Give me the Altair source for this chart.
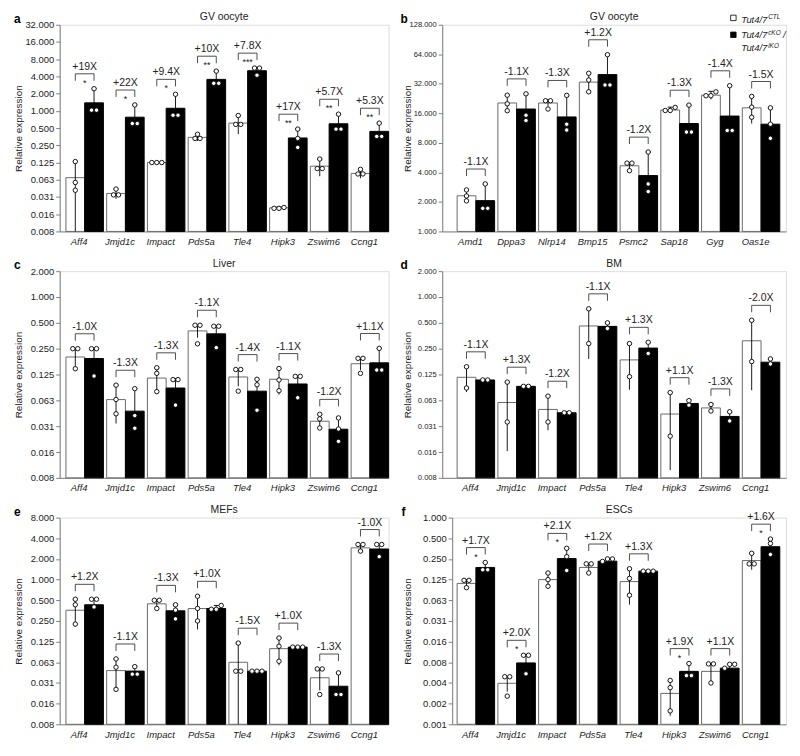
import json
import altair as alt
import numpy as np
import pandas as pd

FONT = "Liberation Sans"
TXT = "#222222"
AXC = "#808080"
PITCH = 41.0   # px per gene group
BW = 0.46      # bar width in group units
H = 208

GENES1 = ["Aff4", "Jmjd1c", "Impact", "Pds5a", "Tle4", "Hipk3", "Zswim6", "Ccng1"]
GENES_B = ["Amd1", "Dppa3", "Nlrp14", "Bmp15", "Psmc2", "Sap18", "Gyg", "Oas1e"]

# ---------------- panel a : GV oocyte ----------------
ctl_mean_a = [0.068, 0.036, 0.125, 0.344, 0.611, 0.0202, 0.108, 0.0807]
ctl_hi_a = [0.13, 0.043, 0.127, 0.39, 0.83, 0.021, 0.144, 0.095]
ctl_pts_a = [[0.13, 0.056, 0.041], [0.043, 0.034, 0.034], [0.125, 0.125, 0.125], [0.39, 0.33, 0.33],
             [0.83, 0.58, 0.58], [0.0198, 0.0198, 0.0205], [0.144, 0.098, 0.098], [0.095, 0.079, 0.079]]
ko_mean_a = [1.38, 0.775, 1.11, 3.55, 5.03, 0.336, 0.595, 0.438]
ko_hi_a = [2.44, 1.27, 1.95, 4.95, 5.6, 0.48, 0.875, 0.61]
ko_pts_a = [[2.44, 1.03, 1.03], [1.27, 0.6, 0.6], [1.95, 0.84, 0.84], [4.95, 3.03, 3.03],
            [5.6, 5.6, 4.2], [0.48, 0.33, 0.23], [0.875, 0.48, 0.48], [0.61, 0.358, 0.358]]
fold_a = ["+19X", "+22X", "+9.4X", "+10X", "+7.8X", "+17X", "+5.7X", "+5.3X"]
sig_a = ["*", "*", "*", "**", "***", "**", "**", "**"]

# ---------------- panel b : GV oocyte ----------------
ctl_mean_b = [2.31, 20.4, 20.4, 33.3, 4.67, 17.3, 24.5, 18.2]
ctl_hi_b = [2.65, 24.5, 22.0, 41.0, 5.0, 18.5, 26.8, 23.8]
ctl_pts_b = [[2.65, 2.3, 2.05], [24.5, 20.0, 17.0], [21.5, 21.5, 17.7], [41.0, 35.0, 26.5],
             [4.97, 4.97, 4.16], [18.4, 17.1, 17.1], [26.5, 24.2, 24.2], [23.8, 18.5, 14.6]]
ko_mean_b = [2.06, 17.7, 14.7, 39.7, 3.71, 12.6, 15.0, 12.4]
ko_hi_b = [3.05, 25.3, 24.4, 63.4, 6.45, 19.4, 30.6, 18.2]
ko_pts_b = [[3.05, 1.72, 1.72], [25.3, 15.3, 13.5], [24.4, 12.4, 10.8], [63.4, 31.1, 31.1],
            [6.45, 3.05, 2.55], [19.4, 10.3, 10.3], [30.6, 10.7, 10.7], [18.2, 12.4, 8.9]]
fold_b = ["-1.1X", "-1.1X", "-1.3X", "+1.2X", "-1.2X", "-1.3X", "-1.4X", "-1.5X"]
sig_b = ["", "", "", "", "", "", "", ""]

# ---------------- panel c : Liver ----------------
ctl_mean_c = [0.2, 0.0638, 0.1136, 0.403, 0.117, 0.11, 0.0357, 0.167]
ctl_hi_c = [0.25, 0.094, 0.15, 0.47, 0.143, 0.147, 0.043, 0.193]
ctl_pts_c = [[0.25, 0.25, 0.146], [0.094, 0.064, 0.0436], [0.15, 0.129, 0.079], [0.469, 0.469, 0.285],
             [0.143, 0.143, 0.08], [0.147, 0.108, 0.081], [0.043, 0.038, 0.0298], [0.193, 0.193, 0.129]]
ko_mean_c = [0.192, 0.0468, 0.087, 0.372, 0.08, 0.097, 0.0288, 0.171]
ko_hi_c = [0.25, 0.0855, 0.112, 0.46, 0.11, 0.119, 0.039, 0.252]
ko_pts_c = [[0.25, 0.25, 0.12], [0.0855, 0.0415, 0.0296], [0.109, 0.109, 0.055], [0.457, 0.457, 0.257],
            [0.11, 0.095, 0.048], [0.119, 0.119, 0.067], [0.039, 0.029, 0.0208], [0.252, 0.141, 0.141]]
fold_c = ["-1.0X", "-1.3X", "-1.3X", "-1.1X", "-1.4X", "-1.1X", "-1.2X", "+1.1X"]
sig_c = ["", "", "", "", "", "", "", ""]

# ---------------- panel d : BM ----------------
ctl_mean_d = [0.116, 0.059, 0.049, 0.46, 0.185, 0.0433, 0.051, 0.309]
ctl_hi_d = [0.154, 0.102, 0.07, 0.73, 0.287, 0.077, 0.057, 0.536]
ctl_pts_d = [[0.154, 0.087], [0.102, 0.035], [0.07, 0.035], [0.729, 0.287],
             [0.287, 0.118], [0.077, 0.0239], [0.056, 0.047], [0.536, 0.177]]
ko_mean_d = [0.108, 0.091, 0.0448, 0.455, 0.254, 0.0575, 0.0406, 0.174]
ko_hi_d = [0.11, 0.093, 0.046, 0.5, 0.297, 0.063, 0.046, 0.19]
ko_pts_d = [[0.108, 0.108], [0.091, 0.091], [0.0448, 0.0448], [0.5, 0.43],
            [0.297, 0.22], [0.062, 0.055], [0.046, 0.036], [0.19, 0.166]]
fold_d = ["-1.1X", "+1.3X", "-1.2X", "-1.1X", "+1.3X", "+1.1X", "-1.3X", "-2.0X"]
sig_d = ["", "", "", "", "", "", "", ""]

# ---------------- panel e : MEFs ----------------
ctl_mean_e = [0.358, 0.0473, 0.444, 0.379, 0.0625, 0.0987, 0.0372, 2.9]
ctl_hi_e = [0.51, 0.07, 0.5, 0.57, 0.119, 0.141, 0.05, 3.25]
ctl_pts_e = [[0.518, 0.43, 0.225], [0.07, 0.053, 0.0252], [0.5, 0.5, 0.38], [0.573, 0.38, 0.25],
             [0.119, 0.0464, 0.0464], [0.141, 0.107, 0.0647], [0.05, 0.05, 0.0212], [3.25, 3.25, 2.6]]
ko_mean_e = [0.43, 0.0465, 0.351, 0.38, 0.0464, 0.104, 0.028, 2.79]
ko_hi_e = [0.518, 0.055, 0.43, 0.42, 0.047, 0.106, 0.0438, 3.25]
ko_pts_e = [[0.518, 0.518, 0.4], [0.054, 0.042, 0.042], [0.43, 0.36, 0.268], [0.42, 0.37, 0.37],
            [0.0464, 0.0464, 0.0464], [0.104, 0.104, 0.104], [0.0438, 0.0212, 0.0212], [3.25, 3.25, 2.16]]
fold_e = ["+1.2X", "-1.1X", "-1.3X", "+1.0X", "-1.5X", "+1.0X", "-1.3X", "-1.0X"]
sig_e = ["", "", "", "", "", "", "", ""]

# ---------------- panel f : ESCs ----------------
ctl_mean_f = [0.110, 0.00386, 0.125, 0.188, 0.117, 0.00275, 0.00576, 0.237]
ctl_hi_f = [0.125, 0.0048, 0.155, 0.212, 0.18, 0.0042, 0.0075, 0.30]
ctl_pts_f = [[0.122, 0.122, 0.0955], [0.00481, 0.00481, 0.00251], [0.156, 0.125, 0.1], [0.212, 0.212, 0.156],
             [0.18, 0.13, 0.074], [0.00425, 0.00334, 0.00153], [0.0074, 0.0074, 0.0039], [0.302, 0.212, 0.212]]
ko_mean_f = [0.188, 0.00765, 0.253, 0.232, 0.166, 0.00576, 0.00642, 0.377]
ko_hi_f = [0.222, 0.0099, 0.357, 0.25, 0.168, 0.0075, 0.0073, 0.487]
ko_pts_f = [[0.222, 0.174, 0.174], [0.00989, 0.00989, 0.00531], [0.357, 0.27, 0.17], [0.25, 0.25, 0.23],
            [0.166, 0.166, 0.166], [0.0075, 0.005, 0.005], [0.0073, 0.0073, 0.0064], [0.487, 0.42, 0.29]]
fold_f = ["+1.7X", "+2.0X", "+2.1X", "+1.2X", "+1.3X", "+1.9X", "+1.1X", "+1.6X"]
sig_f = ["*", "*", "*", "", "", "*", "", "*"]


def one(**kw):
    return pd.DataFrame([kw])


def panel(letter, title, genes, cm, ch, cp, km, kh, kp, fold, sig, e0, e1,
          W, off, title_x, letter_x, tick_fs=9.5, legend=False):
    dmin, dmax = 2.0 ** e0, 2.0 ** e1
    L = e1 - e0

    def ypx(v):
        return H * (np.log2(v) - e0) / L

    bars, pts, brk = [], [], []
    for i, g in enumerate(genes):
        for grp, mean, hi, p, k in (("CTL", cm[i], ch[i], cp[i], 0), ("KO", km[i], kh[i], kp[i], 1)):
            left = i + k * BW
            c = left + BW / 2
            lo = max(2 * mean - hi, dmin)
            bars.append(dict(gene=g, grp=grp, x=left, x2=left + BW, xc=c,
                             capl=c - 2.5 / PITCH, capr=c + 2.5 / PITCH,
                             mean=mean, hi=hi, lo=lo))
            ys = sorted(p, key=ypx)
            clusters = []
            for v in ys:
                if clusters and ypx(v) - ypx(clusters[-1][-1]) < 4.0:
                    clusters[-1].append(v)
                else:
                    clusters.append([v])
            for cl in clusters:
                n = len(cl)
                for j, v in enumerate(cl):
                    pts.append(dict(gene=g, grp=grp, px=c + (j - (n - 1) / 2) * 5.0 / PITCH, val=v))
        top = max(ch[i], kh[i], max(cp[i]), max(kp[i]))
        brk.append(dict(gene=g, xa=i + BW / 2, xb=i + 1.5 * BW, xm=i + BW, top=top,
                        fold=fold[i], sig=sig[i]))
    bdf, pdf, kdf = pd.DataFrame(bars), pd.DataFrame(pts), pd.DataFrame(brk)

    xscale = alt.Scale(domain=[-off / PITCH, (W - off) / PITCH], nice=False, zero=False)
    yscale = alt.Scale(type="log", base=2, domain=[dmin, dmax], nice=False)
    label_expr = json.dumps(genes) + "[round(datum.value - %s)]" % BW
    xaxis = alt.Axis(values=[i + BW for i in range(len(genes))], labelExpr=label_expr, title=None,
                     ticks=False, tickSize=0, domainColor=AXC, domainWidth=1, grid=False,
                     labelFont=FONT, labelFontStyle="italic", labelFontSize=9.5, labelColor=TXT,
                     labelPadding=5, labelOffset=-6, labelFlush=False, labelOverlap=False)
    yaxis = alt.Axis(values=[2.0 ** e for e in range(e0, e1 + 1)], format=".3f",
                     title="Relative expression", titleX=title_x, titleY=H / 2, titleAngle=-90,
                     titleAlign="center", titleBaseline="middle", titleFont=FONT, titleFontSize=10,
                     titleFontWeight="normal", titleColor=TXT, grid=False,
                     labelFont=FONT, labelFontSize=tick_fs, labelColor=TXT, labelPadding=2,
                     tickSize=4, tickColor=AXC, domainColor=AXC, domainWidth=1,
                     labelFlush=False, labelOverlap=False)

    def X(f):
        return alt.X(f, type="quantitative", scale=xscale, axis=xaxis)

    def Y(f):
        return alt.Y(f, type="quantitative", scale=yscale, axis=yaxis)

    gscale_fill = alt.Scale(domain=["CTL", "KO"], range=["white", "black"])
    gscale_stroke = alt.Scale(domain=["CTL", "KO"], range=["#6a6a6a", "black"])

    layers = []
    layers.append(alt.Chart(bdf).mark_bar(strokeWidth=1).encode(
        x=X("x"), x2="x2", y=Y("mean"), y2=alt.datum(dmin),
        fill=alt.Fill("grp:N", scale=gscale_fill, legend=None),
        stroke=alt.Stroke("grp:N", scale=gscale_stroke, legend=None)))
    layers.append(alt.Chart(bdf).mark_rule(color="black", strokeWidth=0.9).encode(
        x=X("xc"), y=Y("lo"), y2="hi"))
    layers.append(alt.Chart(bdf).mark_rule(color="black", strokeWidth=0.9).encode(
        x=X("capl"), x2="capr", y=Y("hi")))
    layers.append(alt.Chart(pdf).mark_point(shape="circle", filled=True, fill="white", stroke="black",
                                            strokeWidth=0.9, size=20, opacity=1).encode(
        x=X("px"), y=Y("val")))
    # brackets
    bc = "#3a3a3a"
    layers.append(alt.Chart(kdf).mark_rule(color=bc, strokeWidth=0.9, yOffset=-15).encode(
        x=X("xa"), x2="xb", y=Y("top")))
    layers.append(alt.Chart(kdf).mark_rule(color=bc, strokeWidth=0.9, yOffset=-15, y2Offset=-8).encode(
        x=X("xa"), y=Y("top"), y2="top"))
    layers.append(alt.Chart(kdf).mark_rule(color=bc, strokeWidth=0.9, yOffset=-15, y2Offset=-8).encode(
        x=X("xb"), y=Y("top"), y2="top"))
    layers.append(alt.Chart(kdf).mark_text(font=FONT, fontSize=10.5, color=TXT, dy=-19,
                                           baseline="alphabetic", align="center").encode(
        x=X("xm"), y=Y("top"), text="fold:N"))
    layers.append(alt.Chart(kdf).mark_text(font=FONT, fontSize=9, color=TXT, dy=-3,
                                           baseline="alphabetic", align="center").encode(
        x=X("xm"), y=Y("top"), text="sig:N"))
    # title and panel letter
    layers.append(alt.Chart(one(t=title)).mark_text(font=FONT, fontSize=10.5, color=TXT,
                                                     baseline="alphabetic", align="center").encode(
        x=alt.value(W / 2), y=alt.value(-4.5), text="t:N"))
    layers.append(alt.Chart(one(t=letter)).mark_text(font=FONT, fontSize=12, fontWeight="bold",
                                                      color="black", baseline="alphabetic",
                                                      align="left").encode(
        x=alt.value(letter_x), y=alt.value(-2), text="t:N"))
    if legend:
        lx, sx = 293, 301
        layers.append(alt.Chart(one(t="CTL")).mark_square(size=30, fill="white", stroke="black",
                                                          strokeWidth=0.8, opacity=1).encode(
            x=alt.value(lx), y=alt.value(-6.9)))
        layers.append(alt.Chart(one(t="KO")).mark_square(size=30, fill="black", stroke="black",
                                                         strokeWidth=0.8, opacity=1).encode(
            x=alt.value(lx), y=alt.value(10.1)))
        for yb, sup, tail in ((-2.2, "CTL", ""), (13.8, "cKO", "/"), (26.8, "iKO", "")):
            layers.append(alt.Chart(one(t="Tut4/7")).mark_text(
                font=FONT, fontSize=9.5, fontStyle="italic", color=TXT, baseline="alphabetic",
                align="left").encode(x=alt.value(sx), y=alt.value(yb), text="t:N"))
            layers.append(alt.Chart(one(t=sup)).mark_text(
                font=FONT, fontSize=6.5, fontStyle="italic", color=TXT, baseline="alphabetic",
                align="left").encode(x=alt.value(sx + 27), y=alt.value(yb - 3.6), text="t:N"))
            if tail:
                layers.append(alt.Chart(one(t=tail)).mark_text(
                    font=FONT, fontSize=9.5, fontStyle="italic", color=TXT, baseline="alphabetic",
                    align="left").encode(x=alt.value(sx + 42), y=alt.value(yb), text="t:N"))
    return alt.layer(*layers).properties(width=W, height=H)


pa = panel("a", "GV oocyte", GENES1, ctl_mean_a, ctl_hi_a, ctl_pts_a, ko_mean_a, ko_hi_a, ko_pts_a,
           fold_a, sig_a, -7, 5, 331, 6.3, -41, -46)
pb = panel("b", "GV oocyte", GENES_B, ctl_mean_b, ctl_hi_b, ctl_pts_b, ko_mean_b, ko_hi_b, ko_pts_b,
           fold_b, sig_b, 0, 7, 346, 15, -35, -42, tick_fs=7.6, legend=True)
pc = panel("c", "Liver", GENES1, ctl_mean_c, ctl_hi_c, ctl_pts_c, ko_mean_c, ko_hi_c, ko_pts_c,
           fold_c, sig_c, -7, 1, 331, 6.3, -41, -46)
pd_ = panel("d", "BM", GENES1, ctl_mean_d, ctl_hi_d, ctl_pts_d, ko_mean_d, ko_hi_d, ko_pts_d,
            fold_d, sig_d, -7, 1, 346, 15, -35, -42, tick_fs=7.6)
pe = panel("e", "MEFs", GENES1, ctl_mean_e, ctl_hi_e, ctl_pts_e, ko_mean_e, ko_hi_e, ko_pts_e,
           fold_e, sig_e, -7, 3, 331, 6.3, -41, -46)
pf = panel("f", "ESCs", GENES1, ctl_mean_f, ctl_hi_f, ctl_pts_f, ko_mean_f, ko_hi_f, ko_pts_f,
           fold_f, sig_f, -10, 0, 336, 5, -45, -51)

row1 = alt.hconcat(pa, pb, spacing=54, bounds="flush")
row2 = alt.hconcat(pc, pd_, spacing=54, bounds="flush")
row3 = alt.hconcat(pe, pf, spacing=64, bounds="flush")
chart = alt.vconcat(row1, row2, row3, spacing=12, bounds="full").configure_view(
    stroke=None).properties(padding={"left": 5, "top": 1.5, "right": 5, "bottom": 5}).configure(
    font=FONT)

chart.save("out.html", embed_options={"renderer": "svg", "actions": False})
